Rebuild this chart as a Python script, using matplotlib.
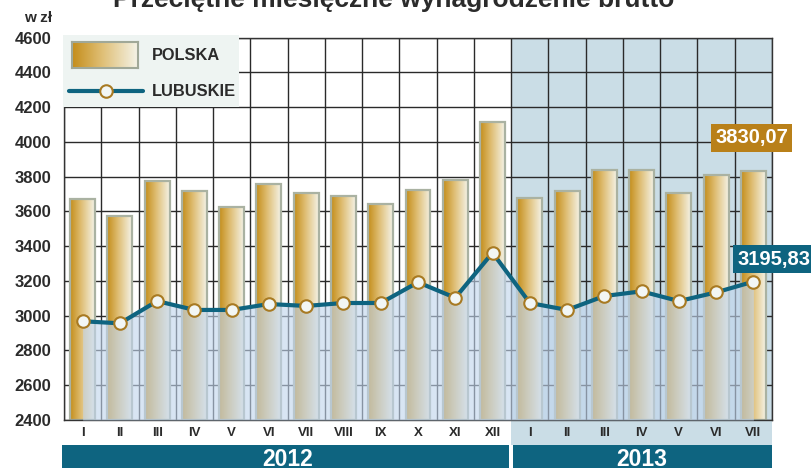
import numpy as np
import matplotlib
matplotlib.use("Agg")
import matplotlib.pyplot as plt
from matplotlib.colors import LinearSegmentedColormap
from matplotlib.patches import Rectangle
import matplotlib.transforms as mtransforms

# ---------------- data ----------------
months = ['I', 'II', 'III', 'IV', 'V', 'VI', 'VII', 'VIII', 'IX', 'X', 'XI', 'XII',
          'I', 'II', 'III', 'IV', 'V', 'VI', 'VII']
years = ['2012', '2013']
months_per_year = [12, 7]
polska = [3669, 3573, 3773, 3719, 3627, 3757, 3706, 3688, 3642, 3723, 3780, 4116,
          3679, 3717, 3838, 3836, 3704, 3809, 3830.07]
lubuskie = [2968, 2956, 3084, 3033, 3033, 3067, 3056, 3073, 3073, 3192, 3103, 3362,
            3073, 3033, 3113, 3140, 3084, 3134, 3195.83]
y_ticks = list(range(2400, 4601, 200))
series_names = ['POLSKA', 'LUBUSKIE']
title = 'Przeciętne miesięczne wynagrodzenie brutto'
unit = 'w zł'

# ---------------- style ----------------
plt.rcParams['font.family'] = ['Liberation Sans', 'DejaVu Sans']
TXT = '#2b2b2b'
TEAL = '#0e6480'
GOLD_BOX = '#b98019'
SHADE = '#cadde6'
GRID = '#2a2a2a'
gold_cmap = LinearSegmentedColormap.from_list(
    'gold', [(0, '#c48d1a'), (0.45, '#dfbe74'), (1, '#f4f3e8')])

W, H = 812, 468
fig = plt.figure(figsize=(W / 100, H / 100), dpi=100)
ax_l, ax_r, ax_t, ax_b = 64, 772, 37.5, 420
ax = fig.add_axes([ax_l / W, 1 - ax_b / H, (ax_r - ax_l) / W, (ax_b - ax_t) / H])

n = len(months)
x = np.arange(n)
ymin, ymax = y_ticks[0], y_ticks[-1]
xlim = (-0.5, n - 0.5)

# shaded 2013 region (plot + tick-label strip)
start13 = months_per_year[0] - 0.5
trans = mtransforms.blended_transform_factory(ax.transData, ax.transAxes)
ax.axvspan(start13, xlim[1], color=SHADE, zorder=0, lw=0)
ax.add_patch(Rectangle((start13, -0.066), xlim[1] - start13, 0.066, transform=trans,
                       color=SHADE, lw=0, clip_on=False, zorder=0))

# grid
ax.set_yticks(y_ticks)
ax.set_xticks(x)
ax.set_xticklabels(months)
ax.set_xticks(np.arange(-0.5, n, 1.0), minor=True)
ax.set_axisbelow(True)
ax.grid(axis='y', which='major', color=GRID, lw=1)
ax.grid(axis='x', which='minor', color=GRID, lw=1)
ax.grid(axis='x', which='major', visible=False)
ax.tick_params(which='both', length=0)
ax.tick_params(axis='y', pad=9, labelsize=12, labelcolor=TXT)
ax.tick_params(axis='x', pad=5, labelsize=9.5, labelcolor=TXT)
for lab in ax.get_xticklabels() + ax.get_yticklabels():
    lab.set_fontweight('bold')
for sp in ax.spines.values():
    sp.set_color('#333333')
    sp.set_linewidth(1)

# bars with horizontal gradient
grad = np.linspace(0, 1, 256).reshape(1, -1)
bars = ax.bar(x, np.array(polska) - ymin, bottom=ymin, width=0.67,
              facecolor='none', edgecolor='#aab2a2', lw=1.6, zorder=2)
for b in bars:
    bx, by, bw, bh = b.get_x(), b.get_y(), b.get_width(), b.get_height()
    im = ax.imshow(grad, extent=[bx, bx + bw, by, by + bh], aspect='auto',
                   cmap=gold_cmap, zorder=1.9, interpolation='bicubic')
    im.set_clip_path(b)

# area under Lubuskie line
ax.fill_between(x, lubuskie, ymin, color='#c1d5ed', alpha=0.62, lw=0, zorder=3)
ax.plot(x, lubuskie, color=TEAL, lw=3, marker='o', ms=9, mfc='#f2f6f4',
        mec='#a87a22', mew=1.5, zorder=4)

ax.set_xlim(*xlim)
ax.set_ylim(ymin, ymax)

def fmt(v):
    return f'{v:.2f}'.replace('.', ',')

ax.text(17.95, 4022, fmt(polska[-1]), ha='center', va='center', color='white',
        fontsize=14.5, fontweight='bold', zorder=6,
        bbox=dict(boxstyle='square,pad=0.22', fc=GOLD_BOX, ec='none'))
ax.text(18.56, 3326, fmt(lubuskie[-1]), ha='center', va='center', color='white',
        fontsize=14.5, fontweight='bold', zorder=6, clip_on=False,
        bbox=dict(boxstyle='square,pad=0.22', fc=TEAL, ec='none'))

# legend (manual)
ax.add_patch(Rectangle((-0.0014, 0.818), 0.249, 0.1885, transform=ax.transAxes,
                       fc='#eef4f2', ec='none', zorder=5, clip_on=False))
sw = ax.inset_axes([0.0113, 0.920, 0.0932, 0.068], zorder=6)
sw.imshow(grad, aspect='auto', cmap=gold_cmap, interpolation='bicubic')
sw.set_xticks([]); sw.set_yticks([])
for sp in sw.spines.values():
    sp.set_color('#a0a898'); sp.set_linewidth(1.5)
ax.plot([0.0071, 0.1116], [0.860, 0.860], color=TEAL, lw=3, solid_capstyle='round',
        transform=ax.transAxes, zorder=6, clip_on=False)
ax.plot([0.0593], [0.860], marker='o', ms=9, mfc='#f2f6f4', mec='#a87a22', mew=1.5,
        transform=ax.transAxes, zorder=7, clip_on=False)
ax.text(0.1243, 0.952, series_names[0], transform=ax.transAxes, ha='left', va='center',
        fontsize=11.8, fontweight='bold', color=TXT, zorder=7)
ax.text(0.1243, 0.860, series_names[1], transform=ax.transAxes, ha='left', va='center',
        fontsize=11.8, fontweight='bold', color=TXT, zorder=7)

# year band
band_top = -(445 - ax_b) / (ax_b - ax_t)
band_bot = -0.2
bounds = np.cumsum([0] + months_per_year) - 0.5
for i, yr in enumerate(years):
    x0 = bounds[i] + (0.05 if i > 0 else -0.05)
    x1 = bounds[i + 1] - (0.05 if i < len(years) - 1 else 0)
    ax.add_patch(Rectangle((x0, band_bot), x1 - x0, band_top - band_bot, transform=trans,
                           fc=TEAL, ec='none', clip_on=False, zorder=1))
    ax.text((bounds[i] + bounds[i + 1]) / 2, -(466 - ax_b) / (ax_b - ax_t), yr,
            transform=trans, ha='center', va='baseline', color='white',
            fontsize=16.5, fontweight='bold', clip_on=False)

# title and unit
fig.text(394 / W, 1 - 7 / H, title, ha='center', va='baseline', fontsize=19,
         fontweight='bold', color=TXT)
fig.text(52 / W, 1 - 18 / H, unit, ha='right', va='center', fontsize=11,
         fontweight='bold', color=TXT)

fig.savefig('out.png', dpi=100)
